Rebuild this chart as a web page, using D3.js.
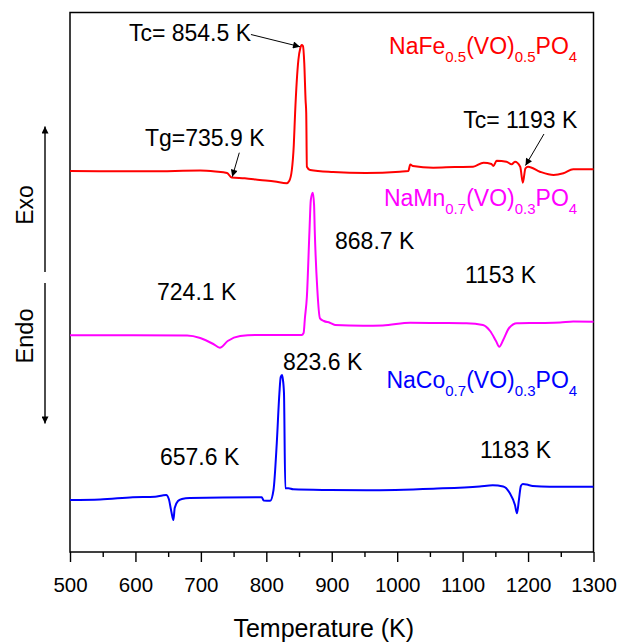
<!DOCTYPE html>
<html>
<head>
<meta charset="utf-8">
<script src="https://cdn.jsdelivr.net/npm/d3@7"></script>
<style>
    body { margin: 0; background: #fff; }
    #chart { width: 619px; height: 642px; }
    text { font-family: "Liberation Sans", Arial, sans-serif; }
</style>
</head>
<body>
<div id="chart"></div>
<script>
    // temperature (K) and heat-flow signal (a.u., curves offset)
    const feT = [500, 622, 699, 722, 740, 747, 767, 790, 813, 831, 835, 839, 842, 844, 849, 852, 854, 856, 858, 860, 861, 862, 867, 902, 952, 1004, 1017, 1020, 1024, 1055, 1088, 1116, 1132, 1144, 1147, 1152, 1167, 1175, 1180, 1188, 1192, 1196, 1200, 1218, 1239, 1254, 1269, 1300];
    const feV = [38.1, 38.07, 38.15, 38.05, 37.9, 37.45, 37.37, 37.2, 37.05, 36.87, 37.1, 38.2, 40.7, 43.9, 49.2, 50.4, 50.7, 50.6, 48.9, 45.2, 43.9, 38.53, 38.2, 38.0, 37.9, 38.03, 38.1, 38.75, 38.6, 38.43, 38.5, 38.53, 38.93, 38.8, 38.6, 39.13, 39.03, 38.77, 39.03, 38.53, 36.93, 38.37, 38.53, 38.03, 37.7, 37.87, 38.27, 38.27];

    const mnT = [500, 679, 699, 719, 729, 741, 760, 783, 854, 857, 859, 862, 866, 868, 871, 873, 874, 878, 882, 888, 897, 905, 948, 978, 1020, 1065, 1106, 1131, 1142, 1151, 1156, 1162, 1171, 1183, 1218, 1249, 1269, 1300];
    const mnV = [21.67, 21.65, 21.4, 20.8, 20.43, 21.1, 21.6, 21.7, 21.7, 21.9, 23.4, 25.53, 32.2, 35.2, 35.93, 34.7, 32.2, 26.2, 23.37, 23.1, 22.93, 22.7, 22.63, 22.65, 22.93, 22.9, 22.87, 22.7, 22.1, 21.1, 20.53, 21.2, 22.4, 22.87, 22.9, 22.95, 23.05, 23.03];

    const coT = [500, 546, 596, 630, 641, 647, 651, 655, 658, 660, 665, 671, 683, 793, 796, 806, 811, 816, 820, 822, 824, 825, 827, 829, 834, 841, 897, 953, 1055, 1126, 1146, 1162, 1172, 1180, 1183, 1186, 1189, 1192, 1198, 1207, 1233, 1300];
    const coV = [5.2, 5.25, 5.47, 5.53, 5.65, 5.7, 5.3, 4.0, 3.2, 4.4, 5.1, 5.3, 5.4, 5.47, 5.15, 5.13, 6.2, 10.9, 15.9, 17.5, 17.7, 17.4, 15.9, 6.37, 6.37, 6.27, 6.2, 6.17, 6.33, 6.55, 6.67, 6.55, 5.9, 4.7, 3.87, 5.2, 6.6, 6.8, 6.75, 6.6, 6.53, 6.53];

    const xTicks = [500, 600, 700, 800, 900, 1000, 1100, 1200, 1300];
    const xMinorTicks = [550, 650, 750, 850, 950, 1050, 1150, 1250];

    const series = [
        { name: ["NaFe", "0.5", "(VO)", "0.5", "PO", "4"], t: feT, v: feV, color: "#ff0000", labelV: 49.77 },
        { name: ["NaMn", "0.7", "(VO)", "0.3", "PO", "4"], t: mnT, v: mnV, color: "#ff00ff", labelV: 34.6 },
        { name: ["NaCo", "0.7", "(VO)", "0.3", "PO", "4"], t: coT, v: coV, color: "#0000ff", labelV: 16.37 }
    ];

    // annotation texts, placed in data coordinates
    const notes = [
        { text: "Tc= 854.5 K", t: 590, v: 51.13 },
        { text: "Tg=735.9 K", t: 614.5, v: 40.6 },
        { text: "Tc= 1193 K", t: 1101, v: 42.37 },
        { text: "724.1 K", t: 633, v: 25.2 },
        { text: "868.7 K", t: 905, v: 30.3 },
        { text: "1153 K", t: 1103.5, v: 26.87 },
        { text: "823.6 K", t: 825.5, v: 18.2 },
        { text: "657.6 K", t: 637.5, v: 8.7 },
        { text: "1183 K", t: 1126.5, v: 9.37 }
    ];
    const pointers = [
        { from: [776.5, 51.75], to: [851.5, 50.53] },
        { from: [758.7, 39.93], to: [748.0, 37.53] },
        { from: [1224.3, 41.8], to: [1196.1, 38.65] }
    ];

    let width = 619, height = 642;
    let plotLeft = 70, plotRight = 593.5, plotTop = 12.5, plotBottom = 552;

    let svg = d3.select("#chart").append("svg")
        .attr("width", width)
        .attr("height", height);

    let defs = svg.append("defs");
    defs.append("marker")
        .attr("id", "head")
        .attr("viewBox", "0 0 10 10")
        .attr("refX", 10).attr("refY", 5)
        .attr("markerWidth", 10).attr("markerHeight", 7)
        .attr("markerUnits", "userSpaceOnUse")
        .attr("orient", "auto")
        .append("path").attr("d", "M0,0L10,5L0,10Z").attr("fill", "#000");

    let x = d3.scaleLinear().domain([500, 1300]).range([plotLeft, plotRight]);
    let y = d3.scaleLinear().domain([0, 54]).range([plotBottom, plotBottom - 540]);

    // frame
    svg.append("rect")
        .attr("x", plotLeft).attr("y", plotTop)
        .attr("width", plotRight - plotLeft).attr("height", plotBottom - plotTop)
        .attr("fill", "none").attr("stroke", "#000").attr("stroke-width", 1.5);

    // x axis, major and minor ticks
    let xAxis = svg.append("g")
        .attr("transform", `translate(0,${plotBottom})`)
        .call(d3.axisBottom(x).tickValues(xTicks).tickSize(10).tickPadding(15).tickFormat(d3.format("d")));
    xAxis.select(".domain").remove();
    xAxis.selectAll("line").attr("stroke-width", 1.4);
    xAxis.selectAll("text").attr("font-size", 20.5).attr("font-family", "Liberation Sans, Arial, sans-serif").attr("fill", "#000");

    svg.append("g")
        .attr("transform", `translate(0,${plotBottom})`)
        .call(d3.axisBottom(x).tickValues(xMinorTicks).tickSize(5).tickFormat(""))
        .call(g => g.select(".domain").remove())
        .selectAll("line").attr("stroke-width", 1.4);

    svg.append("text")
        .attr("x", (plotLeft + plotRight) / 2 - 8)
        .attr("y", 637)
        .attr("text-anchor", "middle")
        .attr("font-size", 25)
        .text("Temperature (K)");

    // curves
    let line = d3.line().curve(d3.curveMonotoneX);
    series.forEach(s => {
        let pts = s.t.map((t, i) => [x(t), y(s.v[i])]);
        svg.append("path")
            .attr("d", line(pts))
            .attr("fill", "none")
            .attr("stroke", s.color)
            .attr("stroke-width", 2)
            .attr("stroke-linejoin", "round");

        let label = svg.append("text")
            .attr("x", x(1275))
            .attr("y", y(s.labelV))
            .attr("text-anchor", "end")
            .attr("fill", s.color)
            .attr("font-size", 23);
        s.name.forEach((part, i) => {
            let sub = i % 2 === 1;
            label.append("tspan")
                .attr("dy", sub ? 8 : (i === 0 ? 0 : -8))
                .attr("font-size", sub ? 15 : 23)
                .text(part);
        });
    });

    // annotations
    svg.selectAll("text.note")
        .data(notes)
        .enter().append("text")
        .attr("class", "note")
        .attr("x", d => x(d.t))
        .attr("y", d => y(d.v))
        .attr("font-size", 23)
        .attr("fill", "#000")
        .text(d => d.text);

    svg.selectAll("line.pointer")
        .data(pointers)
        .enter().append("line")
        .attr("class", "pointer")
        .attr("x1", d => x(d.from[0])).attr("y1", d => y(d.from[1]))
        .attr("x2", d => x(d.to[0])).attr("y2", d => y(d.to[1]))
        .attr("stroke", "#000").attr("stroke-width", 1)
        .attr("marker-end", "url(#head)");

    // Exo / Endo direction arrows
    let ax = 45;
    svg.append("line")
        .attr("x1", ax).attr("y1", 272).attr("x2", ax).attr("y2", 126.5)
        .attr("stroke", "#000").attr("stroke-width", 1.4)
        .attr("marker-end", "url(#head)");
    svg.append("line")
        .attr("x1", ax).attr("y1", 283).attr("x2", ax).attr("y2", 423.5)
        .attr("stroke", "#000").attr("stroke-width", 1.4)
        .attr("marker-end", "url(#head)");

    svg.append("text")
        .attr("transform", "translate(33,205) rotate(-90)")
        .attr("text-anchor", "middle")
        .attr("font-size", 23)
        .text("Exo");
    svg.append("text")
        .attr("transform", "translate(33,336) rotate(-90)")
        .attr("text-anchor", "middle")
        .attr("font-size", 23.5)
        .text("Endo");
</script>
</body>
</html>
